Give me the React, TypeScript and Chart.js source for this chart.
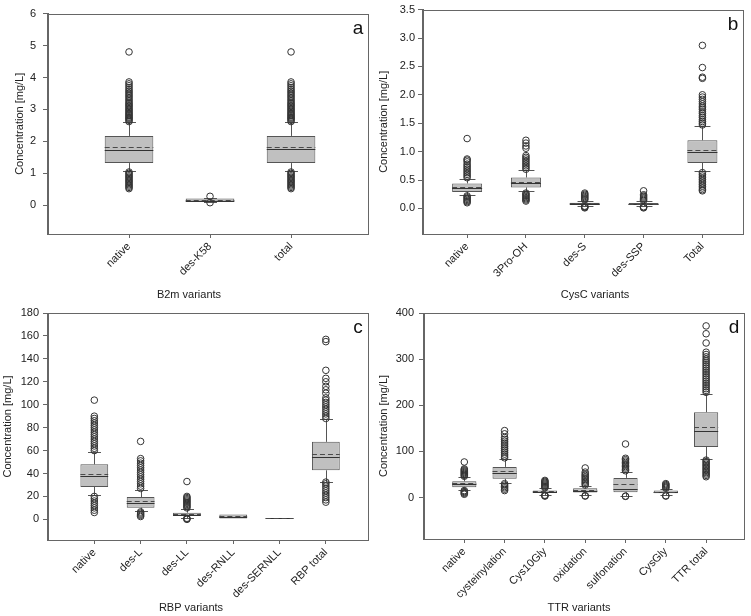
import { useEffect, useRef } from 'react';
import { Chart, registerables } from 'chart.js';

Chart.register(...registerables);
Chart.defaults.font.family = "'Liberation Sans', Arial, sans-serif";
Chart.defaults.color = '#222';

// ---------------- Panel a: B2m variants ----------------
const b2mCategories = ['native', 'des-K58', 'total'];
const b2mWhiskerLow = [1.08, 0.1, 1.08];
const b2mQ1 = [1.32, 0.12, 1.32];
const b2mMedian = [1.74, 0.14, 1.75];
const b2mMean = [1.81, 0.17, 1.81];
const b2mQ3 = [2.17, 0.21, 2.17];
const b2mWhiskerHigh = [2.6, 0.23, 2.6];
const b2mOutliers = [
  [2.62, 2.66, 2.7, 2.73, 2.76, 2.8, 2.83, 2.87, 2.9, 2.94, 2.98, 3.02, 3.06, 3.1, 3.14, 3.18, 3.22, 3.27, 3.32, 3.37, 3.42, 3.47, 3.52, 3.57, 3.62, 3.68, 3.74, 3.8, 3.86, 4.8,
    0.52, 0.56, 0.6, 0.64, 0.68, 0.72, 0.76, 0.8, 0.84, 0.88, 0.92, 0.96, 1.0, 1.04],
  [0.28, 0.08],
  [2.62, 2.66, 2.7, 2.73, 2.76, 2.8, 2.83, 2.87, 2.9, 2.94, 2.98, 3.02, 3.06, 3.1, 3.14, 3.18, 3.22, 3.27, 3.32, 3.37, 3.42, 3.47, 3.52, 3.57, 3.62, 3.68, 3.74, 3.8, 3.86, 4.8,
    0.52, 0.56, 0.6, 0.64, 0.68, 0.72, 0.76, 0.8, 0.84, 0.88, 0.92, 0.96, 1.0, 1.04],
];
const b2mYTicks = [0, 1, 2, 3, 4, 5, 6];

// ---------------- Panel b: CysC variants ----------------
const cysCategories = ['native', '3Pro-OH', 'des-S', 'des-SSP', 'Total'];
const cysWhiskerLow = [0.23, 0.3, 0.05, 0.04, 0.66];
const cysQ1 = [0.29, 0.37, 0.07, 0.065, 0.8];
const cysMedian = [0.355, 0.45, 0.085, 0.08, 1.0];
const cysMean = [0.37, 0.47, 0.09, 0.085, 1.03];
const cysQ3 = [0.44, 0.545, 0.1, 0.095, 1.2];
const cysWhiskerHigh = [0.52, 0.67, 0.135, 0.125, 1.45];
const cysOutliers = [
  [0.54, 0.57, 0.6, 0.63, 0.66, 0.69, 0.72, 0.75, 0.78, 0.82, 0.85, 0.87, 1.23, 0.1, 0.12, 0.14, 0.16, 0.18, 0.2, 0.22],
  [0.69, 0.72, 0.75, 0.78, 0.81, 0.84, 0.87, 0.9, 0.93, 1.06, 1.1, 1.15, 1.2, 0.13, 0.15, 0.17, 0.19, 0.21, 0.23, 0.25, 0.27],
  [0.15, 0.17, 0.19, 0.21, 0.23, 0.25, 0.27, 0.01, 0.02, 0.03, 0.04],
  [0.14, 0.16, 0.18, 0.2, 0.22, 0.24, 0.31, 0.01, 0.02, 0.03],
  [1.47, 1.5, 1.53, 1.56, 1.6, 1.63, 1.67, 1.7, 1.74, 1.77, 1.8, 1.84, 1.88, 1.92, 1.96, 2.0, 2.29, 2.31, 2.48, 2.87,
    0.31, 0.33, 0.36, 0.39, 0.42, 0.45, 0.48, 0.51, 0.54, 0.57, 0.6, 0.63],
];
const cysYTicks = [0, 0.5, 1, 1.5, 2, 2.5, 3, 3.5];

// ---------------- Panel c: RBP variants ----------------
const rbpCategories = ['native', 'des-L', 'des-LL', 'des-RNLL', 'des-SERNLL', 'RBP total'];
const rbpWhiskerLow = [21.6, 7.6, 1.5, 0.8, 1.5, 33];
const rbpQ1 = [28.3, 10.2, 3.2, 0.8, 1.5, 42.8];
const rbpMedian = [37.6, 14.6, 4.2, 2.3, 1.5, 54.5];
const rbpMean = [39.3, 16.3, 5.0, 2.5, 1.5, 57.4];
const rbpQ3 = [48, 19.5, 5.8, 4.2, 1.5, 67.6];
const rbpWhiskerHigh = [58.6, 26, 9, 4.2, 1.5, 87.4];
const rbpOutliers = [
  [60, 62, 64, 66, 68, 70, 72, 74, 76, 78, 80, 82, 84, 86, 88, 90, 104, 6, 8, 10, 12, 14, 16, 18, 20],
  [27, 29, 31, 33, 35, 37, 39, 41, 43, 45, 47, 49, 51, 53, 68, 2.5, 3.5, 4.5, 5.5, 6.5],
  [10, 11, 12, 13, 14, 15, 16, 17, 18, 19, 20, 33, 0, 0.5, 1],
  [],
  [],
  [88, 90, 92, 94, 96, 98, 100, 102, 104, 106, 110, 113, 116, 120, 123, 130, 155, 157,
    15, 17, 19, 21, 23, 25, 27, 29, 31, 32.5],
];
const rbpYTicks = [0, 20, 40, 60, 80, 100, 120, 140, 160, 180];

// ---------------- Panel d: TTR variants ----------------
const ttrCategories = ['native', 'cysteinylation', 'Cys10Gly', 'oxidation', 'sulfonation', 'CysGly', 'TTR total'];
const ttrWhiskerLow = [16.6, 31.7, 6, 5, 3.5, 5, 84];
const ttrQ1 = [22.3, 40.4, 10, 11, 11.5, 9, 109.6];
const ttrMedian = [29.6, 53.4, 12, 14, 18.8, 11, 144];
const ttrMean = [30.5, 57, 13, 16, 28.8, 12, 152];
const ttrQ3 = [35, 66.3, 15, 20, 42.5, 15, 185];
const ttrWhiskerHigh = [44.7, 84, 20, 25, 56, 19, 225];
const ttrOutliers = [
  [46, 48, 50, 52, 54, 56, 58, 60, 62, 77, 7, 9, 11, 13, 15],
  [86, 90, 94, 98, 102, 106, 110, 114, 118, 122, 126, 130, 138, 145, 15, 18, 21, 24, 27, 30],
  [21, 23, 25, 27, 29, 31, 33, 35, 37, 3, 4, 5],
  [27, 30, 33, 36, 39, 42, 45, 48, 51, 55, 64, 3, 4],
  [58, 61, 64, 67, 70, 73, 76, 79, 82, 85, 116, 2.5, 3],
  [20, 22, 24, 26, 28, 30, 3, 4],
  [228, 232, 236, 240, 244, 248, 252, 256, 260, 264, 268, 272, 276, 280, 284, 288, 292, 296, 300, 305, 310, 315, 335, 355, 372,
    45, 48, 51, 54, 57, 60, 63, 66, 69, 72, 75, 78, 81],
];
const ttrYTicks = [0, 100, 200, 300, 400];

// ---------------- styles ----------------
const BOX_FILL = '#c0c0c0';
const BOX_EDGE = '#555555';
const MEDIAN_COLOR = '#333333';
const MEAN_COLOR = '#4a4a4a';
const AXIS_COLOR = '#666666';
const POINT_EDGE = '#333333';
const TEXT_COLOR = '#222222';
const FONT_FAMILY = "'Liberation Sans', Arial, sans-serif";

type Panel = {
  letter: string;
  xTitle: string;
  categories: string[];
  wl: number[]; q1: number[]; med: number[]; mean: number[]; q3: number[]; wh: number[];
  outliers: number[][];
  yTicks: number[];
  yMin: number; yMax: number; xMin: number; xMax: number;
  decimals: number;
  boxWidth: number; capWidth: number;
  box: { left: number; top: number; width: number; height: number };
  pad: { left: number; top: number; right: number; bottom: number };
  yWidth: number; xHeight: number; yTitlePad: number; yTickPad: number;
  xTitleShift: number; xTitleY: number;
};

const panels: Panel[] = [
  {
    letter: 'a', xTitle: 'B2m variants', categories: b2mCategories,
    wl: b2mWhiskerLow, q1: b2mQ1, med: b2mMedian, mean: b2mMean, q3: b2mQ3, wh: b2mWhiskerHigh,
    outliers: b2mOutliers, yTicks: b2mYTicks, yMin: -0.9, yMax: 6, xMin: 0, xMax: 3.95, decimals: 0,
    boxWidth: 0.6, capWidth: 0.16,
    box: { left: 0, top: 0, width: 375, height: 310 },
    pad: { left: 0, top: 7, right: 7, bottom: 0 },
    yWidth: 48, xHeight: 76, yTitlePad: 13.4, yTickPad: 7,
    xTitleShift: -19, xTitleY: 295,
  },
  {
    letter: 'b', xTitle: 'CysC variants', categories: cysCategories,
    wl: cysWhiskerLow, q1: cysQ1, med: cysMedian, mean: cysMean, q3: cysQ3, wh: cysWhiskerHigh,
    outliers: cysOutliers, yTicks: cysYTicks, yMin: -0.45, yMax: 3.5, xMin: 0.25, xMax: 5.69, decimals: 1,
    boxWidth: 0.51, capWidth: 0.27,
    box: { left: 375, top: 0, width: 376, height: 310 },
    pad: { left: 0, top: 7, right: 8, bottom: 0 },
    yWidth: 48, xHeight: 76, yTitlePad: 2.4, yTickPad: 3,
    xTitleShift: 12, xTitleY: 295,
  },
  {
    letter: 'c', xTitle: 'RBP variants', categories: rbpCategories,
    wl: rbpWhiskerLow, q1: rbpQ1, med: rbpMedian, mean: rbpMean, q3: rbpQ3, wh: rbpWhiskerHigh,
    outliers: rbpOutliers, yTicks: rbpYTicks, yMin: -18, yMax: 180, xMin: 0, xMax: 6.91, decimals: 0,
    boxWidth: 0.6, capWidth: 0.28,
    box: { left: 0, top: 300, width: 375, height: 316 },
    pad: { left: 0, top: 13, right: 7, bottom: 0 },
    yWidth: 48, xHeight: 76, yTitlePad: 1.4, yTickPad: 4,
    xTitleShift: -17, xTitleY: 608,
  },
  {
    letter: 'd', xTitle: 'TTR variants', categories: ttrCategories,
    wl: ttrWhiskerLow, q1: ttrQ1, med: ttrMedian, mean: ttrMean, q3: ttrQ3, wh: ttrWhiskerHigh,
    outliers: ttrOutliers, yTicks: ttrYTicks, yMin: -90, yMax: 400, xMin: 0, xMax: 7.94, decimals: 0,
    boxWidth: 0.6, capWidth: 0.3,
    box: { left: 375, top: 300, width: 376, height: 316 },
    pad: { left: 0, top: 13, right: 7, bottom: 0 },
    yWidth: 49, xHeight: 77, yTitlePad: 2.4, yTickPad: 5,
    xTitleShift: -5, xTitleY: 608,
  },
];

function BoxPanel({ p }: { p: Panel }) {
  const ref = useRef<HTMLCanvasElement>(null);
  useEffect(() => {
    if (!ref.current) return;
    const boxData = p.categories.map((_, i) => ({ x: i + 1, y: [p.q1[i], p.q3[i]] }));
    const outData: { x: number; y: number }[] = [];
    p.outliers.forEach((arr, i) => arr.forEach((v) => outData.push({ x: i + 1, y: v })));

    const crisp = (v: number) => Math.round(v) + 0.5;

    const extras = {
      id: 'boxExtras',
      beforeDatasetsDraw(chart: any) {
        const { ctx, scales } = chart;
        const xs = scales.x, ys = scales.y;
        const capHalf = (xs.getPixelForValue(1 + p.capWidth / 2) - xs.getPixelForValue(1));
        ctx.save();
        ctx.strokeStyle = BOX_EDGE;
        ctx.lineWidth = 1;
        p.categories.forEach((_, i) => {
          const cx = crisp(xs.getPixelForValue(i + 1));
          const segs: [number, number][] = [];
          if (p.wh[i] > p.q3[i]) segs.push([p.q3[i], p.wh[i]]);
          if (p.wl[i] < p.q1[i]) segs.push([p.q1[i], p.wl[i]]);
          segs.forEach(([from, to]) => {
            const y0 = ys.getPixelForValue(from);
            const y1 = crisp(ys.getPixelForValue(to));
            ctx.beginPath();
            ctx.moveTo(cx, y0);
            ctx.lineTo(cx, y1);
            ctx.moveTo(cx - capHalf, y1);
            ctx.lineTo(cx + capHalf, y1);
            ctx.stroke();
          });
        });
        ctx.restore();
      },
      afterDatasetsDraw(chart: any) {
        const { ctx, scales } = chart;
        const xs = scales.x, ys = scales.y;
        const half = (xs.getPixelForValue(1 + p.boxWidth / 2) - xs.getPixelForValue(1));
        ctx.save();
        ctx.lineWidth = 1;
        p.categories.forEach((_, i) => {
          const cx = xs.getPixelForValue(i + 1);
          const ym = crisp(ys.getPixelForValue(p.med[i]));
          ctx.setLineDash([]);
          ctx.strokeStyle = MEDIAN_COLOR;
          ctx.beginPath();
          ctx.moveTo(cx - half, ym);
          ctx.lineTo(cx + half, ym);
          ctx.stroke();
          const ya = crisp(ys.getPixelForValue(p.mean[i]));
          ctx.setLineDash([5, 3]);
          ctx.strokeStyle = MEAN_COLOR;
          ctx.beginPath();
          ctx.moveTo(cx - half, ya);
          ctx.lineTo(cx + half, ya);
          ctx.stroke();
        });
        ctx.restore();
      },
      afterDraw(chart: any) {
        const { ctx, chartArea } = chart;
        ctx.save();
        ctx.strokeStyle = AXIS_COLOR;
        ctx.lineWidth = 1;
        ctx.strokeRect(crisp(chartArea.left) - 1, crisp(chartArea.top), Math.round(chartArea.right - chartArea.left) + 1, Math.round(chartArea.bottom - chartArea.top));
        // panel letter
        ctx.fillStyle = '#111';
        ctx.font = `19px ${FONT_FAMILY}`;
        ctx.textAlign = 'center';
        ctx.textBaseline = 'middle';
        ctx.fillText(p.letter, chartArea.right - 10, chartArea.top + 15);
        // x axis title
        ctx.fillStyle = TEXT_COLOR;
        ctx.font = `11px ${FONT_FAMILY}`;
        ctx.fillText(p.xTitle, (chartArea.left + chartArea.right) / 2 + p.xTitleShift, p.xTitleY - p.box.top);
        ctx.restore();
      },
    };

    const chart = new Chart(ref.current, {
      type: 'bar',
      data: {
        datasets: [
          {
            type: 'scatter',
            data: outData,
            pointRadius: 3.3,
            pointBackgroundColor: 'rgba(0,0,0,0)',
            pointBorderColor: POINT_EDGE,
            pointBorderWidth: 1,
            showLine: false,
            order: 1,
          } as any,
          {
            type: 'bar',
            data: boxData as any,
            backgroundColor: BOX_FILL,
            borderColor: BOX_EDGE,
            borderWidth: 1,
            borderSkipped: false,
            categoryPercentage: 1,
            barPercentage: p.boxWidth,
            order: 2,
          } as any,
        ],
      },
      options: {
        responsive: false,
        animation: false,
        events: [],
        layout: { padding: p.pad },
        plugins: { legend: { display: false }, tooltip: { enabled: false } },
        scales: {
          x: {
            type: 'linear',
            min: p.xMin,
            max: p.xMax,
            offset: false,
            afterBuildTicks: (s: any) => { s.ticks = p.categories.map((_, i) => ({ value: i + 1 })); },
            afterFit: (s: any) => { s.height = p.xHeight; },
            ticks: {
              autoSkip: false,
              minRotation: 45,
              maxRotation: 45,
              padding: 2,
              color: TEXT_COLOR,
              font: { size: 11 },
              callback: (v: any) => p.categories[Math.round(Number(v)) - 1] ?? '',
            },
            grid: { display: true, drawOnChartArea: false, drawTicks: true, tickLength: 4, color: AXIS_COLOR, offset: false },
            border: { display: true, color: AXIS_COLOR },
            title: { display: false },
          } as any,
          y: {
            type: 'linear',
            min: p.yMin,
            max: p.yMax,
            afterBuildTicks: (s: any) => { s.ticks = p.yTicks.map((v) => ({ value: v })); },
            afterFit: (s: any) => { s.width = p.yWidth; },
            ticks: {
              padding: p.yTickPad,
              color: TEXT_COLOR,
              font: { size: 11 },
              callback: (v: any) => Number(v).toFixed(p.decimals),
            },
            grid: { display: true, drawOnChartArea: false, drawTicks: true, tickLength: 5, color: AXIS_COLOR },
            border: { display: true, color: AXIS_COLOR },
            title: { display: true, text: 'Concentration [mg/L]', color: TEXT_COLOR, font: { size: 11 }, padding: { top: p.yTitlePad, bottom: 0 } },
          } as any,
        },
      },
      plugins: [extras],
    });
    return () => chart.destroy();
  }, [p]);

  return (
    <canvas
      ref={ref}
      width={p.box.width}
      height={p.box.height}
      style={{ position: 'absolute', left: p.box.left, top: p.box.top, width: p.box.width, height: p.box.height }}
    />
  );
}

export default function App() {
  return (
    <div style={{ position: 'fixed', left: 0, top: 0, width: 751, height: 616, background: '#ffffff', overflow: 'hidden' }}>
      {panels.map((p) => (
        <BoxPanel key={p.letter} p={p} />
      ))}
    </div>
  );
}
